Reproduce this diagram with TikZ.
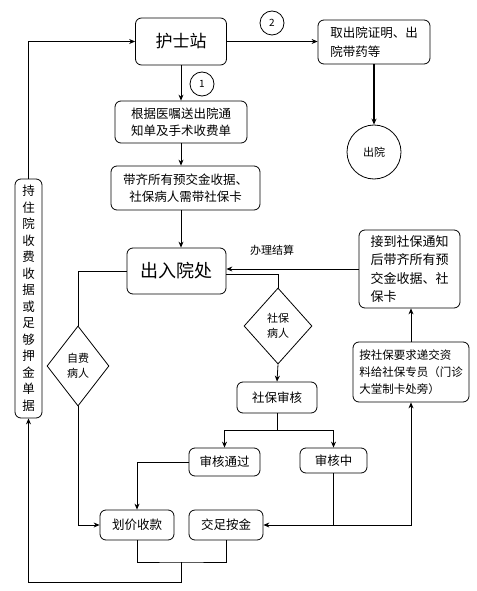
\documentclass[tikz,border=0pt]{standalone}
\usepackage{fontspec}
\setmainfont{Noto Sans CJK SC}
\usetikzlibrary{arrows.meta,shapes.geometric}

\begin{document}
\begin{tikzpicture}[x=1bp, y=-1bp, line width=0.8bp,
    >={Stealth[length=6bp,width=5bp]},
    box/.style={draw, rounded corners=6bp, inner sep=0pt, align=center},
    choice/.style={draw, diamond, inner sep=0pt, align=center, font=\fontsize{11bp}{15bp}\selectfont},
    stepmark/.style={draw, circle, inner sep=0pt, minimum size=24bp, font=\fontsize{10bp}{12bp}\selectfont},
    txt/.style={font=\fontsize{12.5bp}{17bp}\selectfont}]
    \useasboundingbox (0,0) rectangle (477,591);

    % 箱の定義
    \node[box, minimum width=91bp, minimum height=47bp, font=\fontsize{17bp}{20bp}\selectfont] (nurse) at (181,41.5) {护士站};
    \node[box, txt, minimum width=132bp, minimum height=42bp] (notice) at (181,122) {根据医嘱送出院通\\知单及手术收费单};
    \node[box, txt, minimum width=149bp, minimum height=44bp] (receipt) at (185.5,188) {带齐所有预交金收据、\\社保病人需带社保卡};
    \node[box, minimum width=99bp, minimum height=46bp, font=\fontsize{18bp}{21bp}\selectfont] (office) at (176.5,271) {出入院处};
    \node[choice, minimum width=62bp, minimum height=80bp] (self) at (78,366) {自费\\病人};
    \node[choice, minimum width=68bp, minimum height=76bp] (ins) at (278,326) {社保\\病人};
    \node[box, txt, minimum width=80bp, minimum height=31bp] (audit) at (277,397.5) {社保审核};
    \node[box, txt, minimum width=71bp, minimum height=28bp] (pass) at (224.5,462) {审核通过};
    \node[box, txt, minimum width=67bp, minimum height=25bp] (wait) at (333.5,460.5) {审核中};
    \node[box, txt, minimum width=74bp, minimum height=30bp] (price) at (137,525) {划价收款};
    \node[box, txt, minimum width=74bp, minimum height=30bp] (pay) at (226,525) {交足按金};
    \node[box, align=left, minimum width=101bp, minimum height=78bp, font=\fontsize{13bp}{18.5bp}\selectfont] (card) at (409.5,269) {接到社保通知\\后带齐所有预\\交金收据、社\\保卡};
    \node[box, align=left, minimum width=116bp, minimum height=60bp, font=\fontsize{11.5bp}{17bp}\selectfont] (submit) at (411,372) {按社保要求递交资\\料给社保专员（门诊\\大堂制卡处旁）};
    \node[box, minimum width=27bp, minimum height=239bp, font=\fontsize{12.5bp}{16.5bp}\selectfont] (hold) at (28.5,298.5) {持\\住\\院\\收\\费\\收\\据\\或\\足\\够\\押\\金\\单\\据};
    \node[box, align=left, minimum width=112bp, minimum height=44bp, font=\fontsize{12.5bp}{19bp}\selectfont] (fetch) at (374,42) {取出院证明、出\\院带药等\phantom{、出院}};
    \node[draw, circle, minimum size=54bp, inner sep=0pt, font=\fontsize{11bp}{13bp}\selectfont] (out) at (374,152) {出院};
    \node[stepmark] (c1) at (202,84) {1};
    \node[stepmark] (c2) at (272,23) {2};
    \node[font=\fontsize{11bp}{13bp}\selectfont] (settle) at (272,250) {办理结算};

    % 分岐点
    \coordinate (split) at (277,430);
    \coordinate (merge) at (181,562);
    \coordinate (bottom) at (181,582);
    \coordinate (join) at (wait.south |- pay.east);

    % 矢印を引く
    \draw[->] (nurse.south) -- (nurse.south |- notice.north);
    \draw[->] (nurse.south |- notice.south) -- (nurse.south |- receipt.north);
    \draw[->] (nurse.south |- receipt.south) -- (nurse.south |- office.north);
    \draw[->] (nurse.east) -- (nurse.east -| fetch.west);
    \draw[->, line width=1.6bp] (fetch.south) -- (out.north);
    \draw (office.west) -| (self.north);
    \draw[->] (self.south) |- (price.west);
    \draw[->] (card.west) -- (card.west -| office.east);
    \draw (ins.north) |- ([yshift=-3bp]office.east);
    \draw[->] (ins.south) -- (audit.north);
    \draw (audit.south) -- (split);
    \draw[->] (split) -| (pass.north);
    \draw[->] (split) -| (wait.north);
    \draw[->] (pass.west) -| (price.north);
    \draw (wait.south) -- (join);
    \draw[->] (join) -- (pay.east);
    \draw[->] (join) -| (submit.south);
    \draw[->] (submit.north) -- (submit.north |- card.south);
    \draw (price.south) |- (merge) -| (pay.south);
    \draw[->] (merge) -- (bottom) -| (hold.south);
    \draw[->] (hold.north) |- (nurse.west);

  \end{tikzpicture}
\end{document}
